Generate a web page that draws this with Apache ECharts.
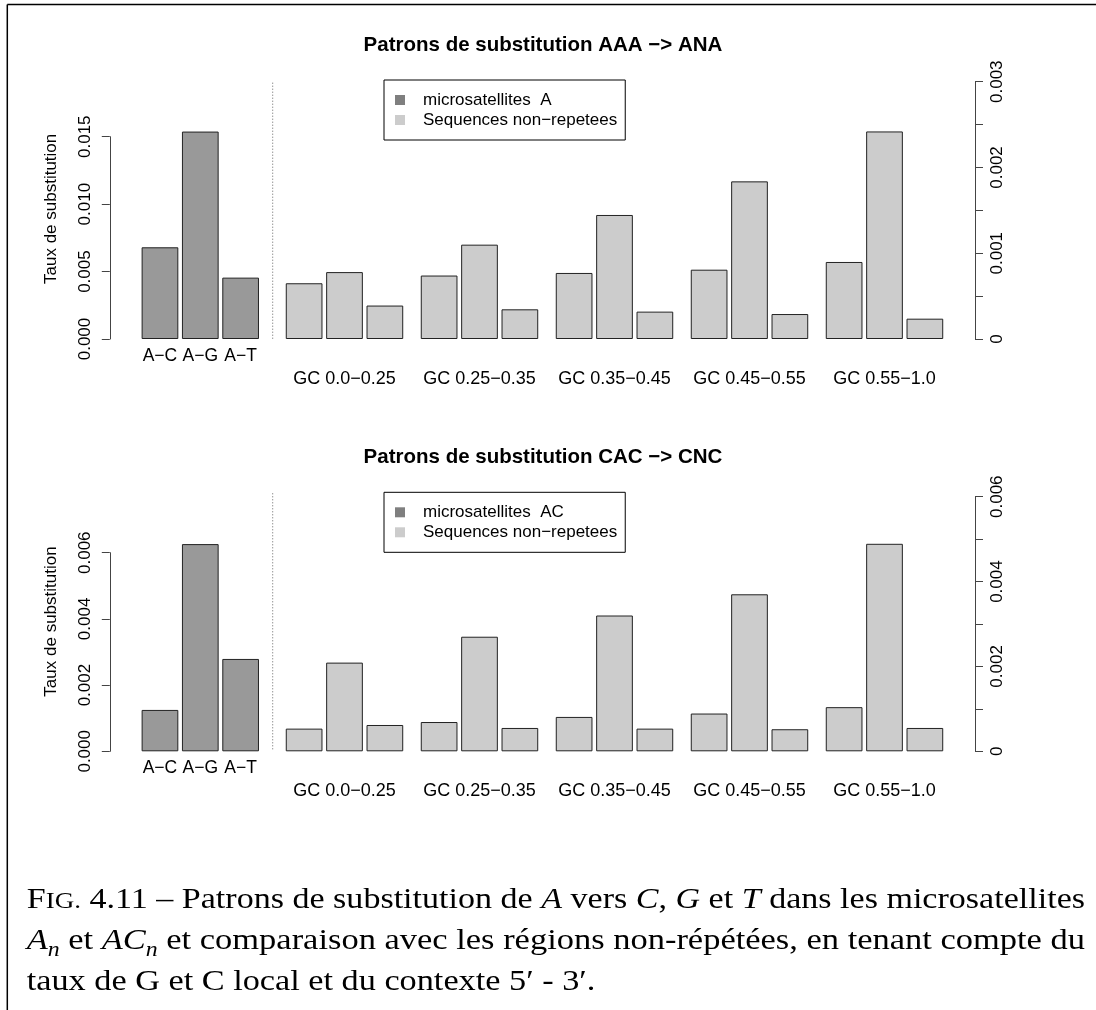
<!DOCTYPE html>
<html><head><meta charset="utf-8">
<script src="https://cdn.jsdelivr.net/npm/echarts@6/dist/echarts.min.js"></script>
<style>html,body{margin:0;padding:0;background:#fff}#c{width:1096px;height:1010px}</style>
</head><body><div id="c"></div>
<script>
// ---------- DATA ----------
const microCategories = ['A−C', 'A−G', 'A−T'];
const gcCategories = ['GC 0.0−0.25', 'GC 0.25−0.35', 'GC 0.35−0.45', 'GC 0.45−0.55', 'GC 0.55−1.0'];

// Panel 1 : AAA -> ANA
const titleTop = 'Patrons de substitution AAA −> ANA';
const microNameTop = 'microsatellites  A';
const microTop = [0.0068, 0.01538, 0.00455];
const nonRepTopAC = [0.00065, 0.00074, 0.00077, 0.000808, 0.000898];
const nonRepTopAG = [0.00078, 0.0011, 0.001446, 0.001838, 0.00242];
const nonRepTopAT = [0.00039, 0.000346, 0.000319, 0.000291, 0.000237];

// Panel 2 : CAC -> CNC
const titleBot = 'Patrons de substitution CAC −> CNC';
const microNameBot = 'microsatellites  AC';
const microBot = [0.00125, 0.00626, 0.00279];
const nonRepBotAC = [0.000534, 0.00069, 0.00081, 0.00089, 0.00104];
const nonRepBotAG = [0.00209, 0.0027, 0.0032, 0.0037, 0.00489];
const nonRepBotAT = [0.00062, 0.00055, 0.000534, 0.00052, 0.00055];

const nonRepName = 'Sequences non−repetees';
const yName = 'Taux de substitution';

// axis scales
const leftAxisTop = { min: 0, max: 0.015, interval: 0.005, labelStep: 0.005 };
const rightAxisTop = { min: 0, max: 0.003, interval: 0.0005, labelStep: 0.001 };
const leftAxisBot = { min: 0, max: 0.006, interval: 0.002, labelStep: 0.002 };
const rightAxisBot = { min: 0, max: 0.006, interval: 0.001, labelStep: 0.002 };

// caption (kind: rm / it / sub, optional size)
const captionLines = [
  [['F', 'rm'], ['IG.', 'rm', 23], [' 4.11 – Patrons de substitution de ', 'rm'], ['A', 'it'], [' vers ', 'rm'], ['C', 'it'], [', ', 'rm'], ['G', 'it'], [' et ', 'rm'], ['T', 'it'], [' dans les microsatellites', 'rm']],
  [['A', 'it'], ['n', 'sub'], [' et ', 'rm'], ['AC', 'it'], ['n', 'sub'], [' et comparaison avec les régions non-répétées, en tenant compte du', 'rm']],
  [['taux de G et C local et du contexte 5′ - 3′.', 'rm']]
];

// ---------- LAYOUT ----------
const SANS = '"Liberation Sans", Arial, Helvetica, sans-serif';
const SERIF = '"Liberation Serif", "Times New Roman", serif';
const AXIS_COL = '#444';
const panelDy = 412.3;
const P = {
  leftGrid: { left: 139.8, width: 121 },
  rightGrid: { left: 277, width: 675 },
  top: { leftTop: 136.7, rightTop: 81.7, base: 339 }
};

function fmt(step, zeroPlain) {
  return function (v) {
    const k = v / step;
    if (Math.abs(k - Math.round(k)) > 1e-6) return '';
    if (zeroPlain && Math.abs(v) < 1e-12) return '0';
    return v.toFixed(3);
  };
}

const grids = [], xAxes = [], yAxes = [], series = [], legends = [], titles = [], graphics = [];

function addPanel(p, dy) {
  const base = P.top.base + dy;
  const gi = grids.length;
  grids.push({ left: P.leftGrid.left, width: P.leftGrid.width, top: p.leftTopY + dy, height: base - (p.leftTopY + dy), outerBoundsMode: 'none' });
  grids.push({ left: P.rightGrid.left, width: P.rightGrid.width, top: p.rightTopY + dy, height: base - (p.rightTopY + dy), outerBoundsMode: 'none' });

  const xCommon = { type: 'category', axisLine: { show: false }, axisTick: { show: false }, splitLine: { show: false } };
  xAxes.push(Object.assign({}, xCommon, { gridIndex: gi, data: microCategories, axisLabel: { interval: 0, hideOverlap: false, color: '#000', fontFamily: SANS, fontSize: 17.5, margin: 8 } }));
  xAxes.push(Object.assign({}, xCommon, { gridIndex: gi + 1, data: gcCategories, axisLabel: { interval: 0, hideOverlap: false, color: '#000', fontFamily: SANS, fontSize: 18, margin: 31 } }));

  yAxes.push({
    type: 'value', gridIndex: gi, position: 'left', offset: 30,
    min: p.left.min, max: p.left.max, interval: p.left.interval,
    axisLine: { show: true, lineStyle: { color: AXIS_COL, width: 1 } },
    axisTick: { show: true, length: 8, lineStyle: { color: AXIS_COL } },
    splitLine: { show: false },
    axisLabel: { rotate: 90, margin: 16, color: '#000', fontFamily: SANS, fontSize: 17, formatter: fmt(p.left.labelStep, false) },
    name: yName, nameLocation: 'middle', nameRotate: 90, nameGap: 50,
    nameTextStyle: { color: '#000', fontFamily: SANS, fontSize: 17, padding: [0, 0, 0, p.namePad] }
  });
  yAxes.push({
    type: 'value', gridIndex: gi + 1, position: 'right', offset: 23,
    min: p.right.min, max: p.right.max, interval: p.right.interval,
    axisLine: { show: true, lineStyle: { color: AXIS_COL, width: 1 } },
    axisTick: { show: true, length: 8, lineStyle: { color: AXIS_COL } },
    splitLine: { show: false },
    axisLabel: { rotate: 90, margin: 14, color: '#000', fontFamily: SANS, fontSize: 17, formatter: fmt(p.right.labelStep, true) }
  });

  series.push({
    type: 'bar', name: p.microName, xAxisIndex: gi, yAxisIndex: gi, data: p.micro,
    barWidth: 36.7, clip: false, silent: true,
    itemStyle: { color: '#999999', borderColor: '#222', borderWidth: 1 }
  });
  [p.ac, p.ag, p.at].forEach(function (d) {
    series.push({
      type: 'bar', name: nonRepName, xAxisIndex: gi + 1, yAxisIndex: gi + 1, data: d,
      barWidth: 36.7, barGap: '10%', clip: false, silent: true,
      itemStyle: { color: '#cccccc', borderColor: '#222', borderWidth: 1 }
    });
  });

  legends.push({
    left: 384, top: 80 + dy, orient: 'vertical', selectedMode: false,
    borderColor: '#000', borderWidth: 1, padding: [10, 8, 10, 11],
    itemWidth: 10, itemHeight: 10, itemGap: 0, icon: 'rect',
    itemStyle: { borderWidth: 0 },
    textStyle: { color: '#000', fontFamily: SANS, fontSize: 17, lineHeight: 20, padding: [0, 0, 0, 13] },
    data: [
      { name: p.microName, itemStyle: { color: '#7f7f7f', borderWidth: 0 } },
      { name: nonRepName, itemStyle: { color: '#cccccc', borderWidth: 0 } }
    ]
  });

  titles.push({
    text: p.title, left: 543, top: 35 + dy, textAlign: 'center', padding: 0,
    textStyle: { color: '#000', fontFamily: SANS, fontSize: 20.5, fontWeight: 'bold' }
  });

  graphics.push({
    type: 'line', silent: true,
    shape: { x1: 272.7, y1: p.sepTop + dy, x2: 272.7, y2: base },
    style: { stroke: '#666', lineWidth: 1, lineDash: [1, 2] }
  });
}

addPanel({ title: titleTop, microName: microNameTop, micro: microTop, ac: nonRepTopAC, ag: nonRepTopAG, at: nonRepTopAT,
  left: leftAxisTop, right: rightAxisTop, leftTopY: 136.7, rightTopY: 81.7, namePad: 58, sepTop: 82.7 }, 0);
addPanel({ title: titleBot, microName: microNameBot, micro: microBot, ac: nonRepBotAC, ag: nonRepBotAG, at: nonRepBotAT,
  left: leftAxisBot, right: rightAxisBot, leftTopY: 552.7 - panelDy, rightTopY: 496.7 - panelDy, namePad: 61, sepTop: 493.3 - panelDy }, panelDy);

// frame
graphics.push({ type: 'line', silent: true, shape: { x1: 7.3, y1: 4.5, x2: 1096, y2: 4.5 }, style: { stroke: '#000', lineWidth: 1.5 } });
graphics.push({ type: 'line', silent: true, shape: { x1: 7.3, y1: 4.5, x2: 7.3, y2: 1010 }, style: { stroke: '#000', lineWidth: 1.5 } });

// caption
(function () {
  const ctx = document.createElement('canvas').getContext('2d');
  const BASE = 29, SUB = 20;
  const baselines = [910, 951, 992];
  const x0 = 26.7, target = 1085 - 26.7;
  const groups = [];
  captionLines.forEach(function (segs, li) {
    let x = 0;
    const children = [];
    segs.forEach(function (seg) {
      const kind = seg[1];
      const size = seg[2] || (kind === 'sub' ? SUB : BASE);
      const italic = kind !== 'rm';
      ctx.font = (italic ? 'italic ' : '') + size + 'px ' + SERIF;
      const w = ctx.measureText(seg[0]).width;
      const bl = baselines[li] + (kind === 'sub' ? 6 : 0);
      children.push({
        type: 'text', x: x, y: bl - 0.3375 * size, silent: true,
        style: { text: seg[0], fontSize: size, fontFamily: SERIF, fontStyle: italic ? 'italic' : 'normal', fill: '#000', align: 'left', verticalAlign: 'middle' }
      });
      x += w;
    });
    groups.push({ width: x, children: children });
  });
  const s1 = target / groups[0].width, s2 = target / groups[1].width;
  const scales = [s1, s2, (s1 + s2) / 2];
  groups.forEach(function (g, i) {
    graphics.push({ type: 'group', x: x0, y: 0, scaleX: scales[i], children: g.children });
  });
})();

const chart = echarts.init(document.getElementById('c'), null, { renderer: 'canvas' });
chart.setOption({
  animation: false,
  backgroundColor: '#fff',
  title: titles,
  legend: legends,
  grid: grids,
  xAxis: xAxes,
  yAxis: yAxes,
  series: series,
  graphic: graphics
});
</script></body></html>
